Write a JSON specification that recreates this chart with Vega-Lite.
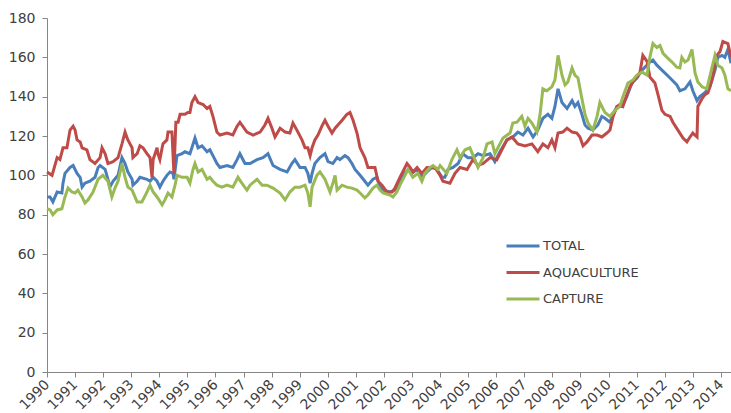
{
"$schema":"https://vega.github.io/schema/vega-lite/v6.json",
"width":684,"height":354,
"autosize":{"type":"none"},
"padding":{"left":47,"top":18,"right":0,"bottom":41},
"background":"white",
"config":{"view":{"stroke":null},"font":"DejaVu Sans"},
"datasets":{
"total":[{"t":1990.00,"v":89},{"t":1990.11,"v":89},{"t":1990.21,"v":86.5},{"t":1990.36,"v":91.5},{"t":1990.53,"v":91},{"t":1990.57,"v":96},{"t":1990.64,"v":101},{"t":1990.82,"v":104},{"t":1990.93,"v":105},{"t":1991.07,"v":101},{"t":1991.18,"v":99},{"t":1991.25,"v":94},{"t":1991.35,"v":96},{"t":1991.53,"v":97},{"t":1991.71,"v":99},{"t":1991.82,"v":104},{"t":1991.89,"v":105},{"t":1992.07,"v":103},{"t":1992.17,"v":98},{"t":1992.24,"v":94},{"t":1992.35,"v":97},{"t":1992.53,"v":100},{"t":1992.67,"v":109},{"t":1992.78,"v":106},{"t":1992.88,"v":101.7},{"t":1993.03,"v":98},{"t":1993.06,"v":95},{"t":1993.21,"v":97},{"t":1993.31,"v":99},{"t":1993.56,"v":98},{"t":1993.67,"v":97},{"t":1993.78,"v":99},{"t":1993.92,"v":97},{"t":1994.02,"v":94},{"t":1994.13,"v":97},{"t":1994.27,"v":100},{"t":1994.38,"v":101.7},{"t":1994.49,"v":101},{"t":1994.52,"v":98},{"t":1994.63,"v":110},{"t":1994.81,"v":111},{"t":1994.91,"v":112},{"t":1995.09,"v":111},{"t":1995.16,"v":114},{"t":1995.27,"v":119},{"t":1995.38,"v":114},{"t":1995.52,"v":115},{"t":1995.70,"v":112},{"t":1995.80,"v":113},{"t":1995.91,"v":110},{"t":1996.05,"v":106},{"t":1996.16,"v":104},{"t":1996.41,"v":105},{"t":1996.62,"v":104},{"t":1996.77,"v":108},{"t":1996.87,"v":111},{"t":1997.05,"v":106},{"t":1997.23,"v":106},{"t":1997.48,"v":108},{"t":1997.69,"v":109},{"t":1997.87,"v":111},{"t":1998.05,"v":105},{"t":1998.30,"v":103},{"t":1998.55,"v":101.7},{"t":1998.72,"v":106},{"t":1998.83,"v":108},{"t":1999.01,"v":104},{"t":1999.19,"v":104},{"t":1999.29,"v":101},{"t":1999.37,"v":96},{"t":1999.44,"v":101},{"t":1999.54,"v":106},{"t":1999.72,"v":109},{"t":1999.90,"v":111},{"t":2000.01,"v":107},{"t":2000.18,"v":106},{"t":2000.33,"v":109},{"t":2000.43,"v":108},{"t":2000.61,"v":110},{"t":2000.72,"v":109},{"t":2000.86,"v":106},{"t":2000.97,"v":103},{"t":2001.15,"v":100},{"t":2001.32,"v":97},{"t":2001.43,"v":95},{"t":2001.61,"v":98},{"t":2001.75,"v":99},{"t":2001.86,"v":94},{"t":2001.97,"v":92.5},{"t":2002.21,"v":91.5},{"t":2002.39,"v":92.5},{"t":2002.57,"v":97},{"t":2002.75,"v":101},{"t":2002.86,"v":103},{"t":2003.00,"v":101},{"t":2003.18,"v":103},{"t":2003.35,"v":99},{"t":2003.53,"v":101.7},{"t":2003.71,"v":104},{"t":2003.89,"v":103},{"t":2004.07,"v":99},{"t":2004.17,"v":99},{"t":2004.28,"v":103},{"t":2004.46,"v":104},{"t":2004.64,"v":106},{"t":2004.81,"v":111},{"t":2004.99,"v":109},{"t":2005.17,"v":109},{"t":2005.35,"v":111},{"t":2005.53,"v":110},{"t":2005.78,"v":111},{"t":2005.95,"v":107},{"t":2006.13,"v":112},{"t":2006.38,"v":118},{"t":2006.59,"v":119.5},{"t":2006.77,"v":122},{"t":2006.95,"v":120.5},{"t":2007.13,"v":124},{"t":2007.31,"v":119.5},{"t":2007.48,"v":123},{"t":2007.66,"v":129},{"t":2007.84,"v":131},{"t":2007.98,"v":129},{"t":2008.09,"v":135},{"t":2008.20,"v":144},{"t":2008.34,"v":137},{"t":2008.52,"v":134},{"t":2008.70,"v":138},{"t":2008.80,"v":135},{"t":2008.91,"v":137},{"t":2009.05,"v":131},{"t":2009.16,"v":125.6},{"t":2009.27,"v":124},{"t":2009.44,"v":123},{"t":2009.62,"v":125.6},{"t":2009.76,"v":130},{"t":2009.87,"v":129},{"t":2010.05,"v":127},{"t":2010.16,"v":131},{"t":2010.30,"v":135},{"t":2010.48,"v":135},{"t":2010.65,"v":140},{"t":2010.83,"v":147},{"t":2011.01,"v":149.5},{"t":2011.19,"v":153.5},{"t":2011.37,"v":156},{"t":2011.47,"v":157.6},{"t":2011.58,"v":158.6},{"t":2011.72,"v":156},{"t":2011.90,"v":153.5},{"t":2012.08,"v":151},{"t":2012.26,"v":148.5},{"t":2012.43,"v":146},{"t":2012.54,"v":143},{"t":2012.72,"v":144},{"t":2012.90,"v":147.5},{"t":2013.00,"v":143},{"t":2013.15,"v":138},{"t":2013.25,"v":140},{"t":2013.43,"v":142},{"t":2013.61,"v":145},{"t":2013.79,"v":153.5},{"t":2013.89,"v":160},{"t":2014.04,"v":161},{"t":2014.14,"v":160},{"t":2014.25,"v":164},{"t":2014.36,"v":157}],
"aqua":[{"t":1990.00,"v":101.7},{"t":1990.18,"v":100},{"t":1990.36,"v":109},{"t":1990.46,"v":108},{"t":1990.57,"v":114},{"t":1990.71,"v":114},{"t":1990.82,"v":123},{"t":1990.93,"v":125},{"t":1991.00,"v":123},{"t":1991.07,"v":118},{"t":1991.18,"v":117},{"t":1991.25,"v":114},{"t":1991.42,"v":113},{"t":1991.53,"v":108},{"t":1991.71,"v":106},{"t":1991.89,"v":109},{"t":1991.96,"v":114},{"t":1992.07,"v":111},{"t":1992.17,"v":106},{"t":1992.35,"v":107},{"t":1992.53,"v":109},{"t":1992.67,"v":116},{"t":1992.78,"v":122},{"t":1992.88,"v":118},{"t":1993.03,"v":114},{"t":1993.06,"v":109},{"t":1993.21,"v":111},{"t":1993.31,"v":115},{"t":1993.42,"v":114},{"t":1993.56,"v":111},{"t":1993.67,"v":109},{"t":1993.74,"v":99},{"t":1993.78,"v":108},{"t":1993.92,"v":114},{"t":1993.95,"v":111},{"t":1994.02,"v":108},{"t":1994.10,"v":114},{"t":1994.13,"v":116},{"t":1994.27,"v":118},{"t":1994.31,"v":122},{"t":1994.45,"v":122},{"t":1994.52,"v":101},{"t":1994.59,"v":127},{"t":1994.67,"v":127},{"t":1994.74,"v":131},{"t":1994.91,"v":131},{"t":1995.02,"v":132},{"t":1995.09,"v":132},{"t":1995.16,"v":137},{"t":1995.27,"v":140},{"t":1995.38,"v":137},{"t":1995.56,"v":136},{"t":1995.70,"v":134},{"t":1995.80,"v":135},{"t":1995.91,"v":130},{"t":1996.05,"v":122},{"t":1996.16,"v":120.5},{"t":1996.41,"v":121.5},{"t":1996.62,"v":120.5},{"t":1996.77,"v":125},{"t":1996.87,"v":127},{"t":1997.12,"v":122},{"t":1997.34,"v":120.5},{"t":1997.59,"v":122},{"t":1997.76,"v":125.6},{"t":1997.87,"v":129},{"t":1998.01,"v":124},{"t":1998.12,"v":119.5},{"t":1998.30,"v":124},{"t":1998.48,"v":122},{"t":1998.65,"v":121.5},{"t":1998.76,"v":126.6},{"t":1998.90,"v":123},{"t":1999.08,"v":118},{"t":1999.19,"v":114},{"t":1999.29,"v":114},{"t":1999.37,"v":110},{"t":1999.44,"v":114},{"t":1999.54,"v":118},{"t":1999.65,"v":120.5},{"t":1999.79,"v":125},{"t":1999.90,"v":128},{"t":2000.01,"v":125},{"t":2000.15,"v":121.5},{"t":2000.26,"v":124},{"t":2000.36,"v":125.6},{"t":2000.51,"v":128},{"t":2000.68,"v":131},{"t":2000.79,"v":132},{"t":2000.90,"v":128},{"t":2001.04,"v":121.5},{"t":2001.15,"v":114},{"t":2001.32,"v":109},{"t":2001.43,"v":104},{"t":2001.57,"v":104},{"t":2001.68,"v":104},{"t":2001.79,"v":97},{"t":2001.93,"v":95},{"t":2002.11,"v":91.5},{"t":2002.29,"v":91.5},{"t":2002.39,"v":93.5},{"t":2002.57,"v":99},{"t":2002.82,"v":106},{"t":2002.93,"v":104},{"t":2003.03,"v":101.7},{"t":2003.18,"v":104},{"t":2003.35,"v":101},{"t":2003.53,"v":104},{"t":2003.71,"v":104},{"t":2003.82,"v":104},{"t":2004.00,"v":100},{"t":2004.10,"v":97},{"t":2004.35,"v":96},{"t":2004.53,"v":101},{"t":2004.71,"v":104},{"t":2004.96,"v":103},{"t":2005.17,"v":108},{"t":2005.35,"v":105},{"t":2005.53,"v":106},{"t":2005.78,"v":109},{"t":2006.02,"v":108},{"t":2006.20,"v":113},{"t":2006.38,"v":118},{"t":2006.56,"v":119.5},{"t":2006.77,"v":116},{"t":2007.02,"v":115},{"t":2007.27,"v":116},{"t":2007.48,"v":112},{"t":2007.66,"v":116},{"t":2007.84,"v":114},{"t":2007.98,"v":118},{"t":2008.09,"v":114},{"t":2008.20,"v":121.5},{"t":2008.37,"v":122},{"t":2008.52,"v":124},{"t":2008.70,"v":122},{"t":2008.87,"v":121.5},{"t":2008.98,"v":119.5},{"t":2009.09,"v":115},{"t":2009.23,"v":117},{"t":2009.41,"v":120.5},{"t":2009.59,"v":120.5},{"t":2009.76,"v":119.5},{"t":2009.94,"v":121.5},{"t":2010.05,"v":123},{"t":2010.16,"v":130},{"t":2010.30,"v":135},{"t":2010.40,"v":136},{"t":2010.51,"v":135},{"t":2010.65,"v":141},{"t":2010.76,"v":145},{"t":2010.87,"v":147.5},{"t":2011.01,"v":150},{"t":2011.12,"v":152.5},{"t":2011.22,"v":161},{"t":2011.37,"v":158},{"t":2011.47,"v":150},{"t":2011.65,"v":147},{"t":2011.76,"v":141},{"t":2011.90,"v":133},{"t":2012.01,"v":131},{"t":2012.19,"v":130},{"t":2012.29,"v":127},{"t":2012.47,"v":123},{"t":2012.65,"v":119},{"t":2012.79,"v":117},{"t":2012.90,"v":119.5},{"t":2013.00,"v":121.5},{"t":2013.15,"v":119.5},{"t":2013.18,"v":135},{"t":2013.33,"v":139},{"t":2013.43,"v":141},{"t":2013.54,"v":142},{"t":2013.68,"v":148.5},{"t":2013.86,"v":161},{"t":2013.97,"v":163},{"t":2014.07,"v":168},{"t":2014.25,"v":167},{"t":2014.36,"v":160}],
"capture":[{"t":1990.00,"v":83},{"t":1990.11,"v":82.4},{"t":1990.21,"v":80},{"t":1990.36,"v":82.4},{"t":1990.53,"v":83},{"t":1990.64,"v":89},{"t":1990.75,"v":93.5},{"t":1990.89,"v":91.5},{"t":1991.00,"v":91},{"t":1991.10,"v":92.5},{"t":1991.25,"v":89},{"t":1991.35,"v":86},{"t":1991.46,"v":87.5},{"t":1991.64,"v":91.5},{"t":1991.82,"v":98},{"t":1991.99,"v":100},{"t":1992.17,"v":97},{"t":1992.31,"v":89},{"t":1992.42,"v":93.5},{"t":1992.53,"v":97},{"t":1992.67,"v":106},{"t":1992.78,"v":99},{"t":1992.88,"v":94},{"t":1993.03,"v":92.5},{"t":1993.21,"v":86.5},{"t":1993.38,"v":86.5},{"t":1993.56,"v":91.5},{"t":1993.67,"v":95},{"t":1993.78,"v":91.5},{"t":1993.92,"v":89},{"t":1994.10,"v":85},{"t":1994.20,"v":87.5},{"t":1994.31,"v":91},{"t":1994.45,"v":89},{"t":1994.56,"v":95},{"t":1994.63,"v":100},{"t":1994.81,"v":99},{"t":1994.99,"v":99},{"t":1995.09,"v":96},{"t":1995.20,"v":103},{"t":1995.27,"v":106},{"t":1995.38,"v":101.7},{"t":1995.52,"v":103},{"t":1995.70,"v":98},{"t":1995.80,"v":99},{"t":1995.91,"v":97},{"t":1996.05,"v":95},{"t":1996.23,"v":94},{"t":1996.41,"v":95},{"t":1996.62,"v":94},{"t":1996.80,"v":99},{"t":1996.94,"v":96},{"t":1997.12,"v":92.5},{"t":1997.23,"v":95},{"t":1997.48,"v":98},{"t":1997.66,"v":95},{"t":1997.83,"v":95},{"t":1998.05,"v":93.5},{"t":1998.30,"v":91},{"t":1998.48,"v":87.5},{"t":1998.65,"v":91.5},{"t":1998.83,"v":94},{"t":1999.01,"v":94},{"t":1999.19,"v":95},{"t":1999.29,"v":91},{"t":1999.37,"v":84},{"t":1999.44,"v":94},{"t":1999.61,"v":100},{"t":1999.72,"v":101.7},{"t":1999.90,"v":98},{"t":2000.08,"v":91.5},{"t":2000.18,"v":96},{"t":2000.26,"v":100},{"t":2000.33,"v":92.5},{"t":2000.51,"v":95},{"t":2000.68,"v":94},{"t":2000.86,"v":93.5},{"t":2001.04,"v":92.5},{"t":2001.15,"v":91},{"t":2001.32,"v":88.5},{"t":2001.43,"v":90},{"t":2001.61,"v":93.5},{"t":2001.75,"v":95},{"t":2001.86,"v":92.5},{"t":2001.97,"v":91},{"t":2002.21,"v":90},{"t":2002.32,"v":89},{"t":2002.46,"v":91.5},{"t":2002.57,"v":95},{"t":2002.75,"v":100},{"t":2002.86,"v":103},{"t":2003.03,"v":99},{"t":2003.21,"v":101},{"t":2003.35,"v":97},{"t":2003.46,"v":101},{"t":2003.64,"v":104},{"t":2003.75,"v":105},{"t":2003.92,"v":103},{"t":2004.00,"v":105},{"t":2004.24,"v":101},{"t":2004.42,"v":108},{"t":2004.60,"v":113},{"t":2004.71,"v":109},{"t":2004.89,"v":113},{"t":2005.06,"v":114},{"t":2005.24,"v":108},{"t":2005.35,"v":104},{"t":2005.53,"v":109},{"t":2005.67,"v":116},{"t":2005.85,"v":117},{"t":2005.95,"v":111},{"t":2006.13,"v":116},{"t":2006.24,"v":119},{"t":2006.49,"v":121.5},{"t":2006.59,"v":126.6},{"t":2006.74,"v":127},{"t":2006.91,"v":130},{"t":2007.02,"v":125},{"t":2007.13,"v":129},{"t":2007.27,"v":126.6},{"t":2007.45,"v":122},{"t":2007.56,"v":131},{"t":2007.66,"v":144},{"t":2007.80,"v":143},{"t":2007.98,"v":145},{"t":2008.09,"v":148.5},{"t":2008.20,"v":161},{"t":2008.34,"v":151},{"t":2008.45,"v":146},{"t":2008.55,"v":147.5},{"t":2008.70,"v":154.6},{"t":2008.80,"v":151},{"t":2008.91,"v":149.5},{"t":2009.05,"v":139},{"t":2009.16,"v":131},{"t":2009.27,"v":126.6},{"t":2009.44,"v":123},{"t":2009.59,"v":130},{"t":2009.69,"v":137},{"t":2009.87,"v":132},{"t":2010.05,"v":130},{"t":2010.23,"v":133},{"t":2010.40,"v":135},{"t":2010.51,"v":140},{"t":2010.69,"v":147},{"t":2010.87,"v":148.5},{"t":2011.01,"v":151},{"t":2011.19,"v":152.5},{"t":2011.37,"v":151},{"t":2011.47,"v":160},{"t":2011.58,"v":167},{"t":2011.72,"v":165},{"t":2011.83,"v":166},{"t":2011.94,"v":162},{"t":2012.08,"v":160},{"t":2012.26,"v":157.6},{"t":2012.43,"v":155},{"t":2012.54,"v":154.6},{"t":2012.61,"v":160},{"t":2012.72,"v":157.6},{"t":2012.83,"v":158.6},{"t":2012.97,"v":164},{"t":2013.08,"v":152},{"t":2013.18,"v":147.5},{"t":2013.33,"v":145},{"t":2013.50,"v":144},{"t":2013.68,"v":154.6},{"t":2013.79,"v":161},{"t":2013.89,"v":156},{"t":2014.04,"v":154.6},{"t":2014.14,"v":151},{"t":2014.25,"v":144},{"t":2014.36,"v":143}]
},
"encoding":{
"x":{"field":"t","type":"quantitative","scale":{"domain":[1990,2014.36],"nice":false,"zero":false},
"axis":{"values":[1990,1991,1992,1993,1994,1995,1996,1997,1998,1999,2000,2001,2002,2003,2004,2005,2006,2007,2008,2009,2010,2011,2012,2013,2014],"format":"d","labelAngle":-45,"labelAlign":"right","labelBaseline":"middle","title":null,"grid":false,"domainColor":"#868686","tickColor":"#868686","tickSize":5,"labelColor":"#404040","labelFontSize":14,"labelPadding":5,"labelOverlap":false,"labelFlush":false,"labelBound":false}},
"y":{"field":"v","type":"quantitative","scale":{"domain":[0,180],"nice":false},
"axis":{"values":[0,20,40,60,80,100,120,140,160,180],"title":null,"grid":false,"domainColor":"#868686","tickColor":"#868686","tickSize":5,"labelColor":"#404040","labelFontSize":14,"labelPadding":7}}
},
"layer":[
{"data":{"name":"total"},"mark":{"type":"line","strokeWidth":3},
"encoding":{"color":{"datum":"TOTAL","type":"nominal","scale":{"domain":["TOTAL","AQUACULTURE","CAPTURE"],"range":["#4A7EBB","#BE4B48","#98B954"]},
"legend":{"orient":"none","legendX":458,"legendY":210,"title":null,"symbolType":"stroke","symbolStrokeWidth":3,"symbolSize":1089,"labelFontSize":13,"labelColor":"#404040","rowPadding":1.5,"labelOffset":2,"padding":0}}}},
{"data":{"name":"aqua"},"mark":{"type":"line","strokeWidth":3},
"encoding":{"color":{"datum":"AQUACULTURE","type":"nominal"}}},
{"data":{"name":"capture"},"mark":{"type":"line","strokeWidth":3},
"encoding":{"color":{"datum":"CAPTURE","type":"nominal"}}}
]
}
